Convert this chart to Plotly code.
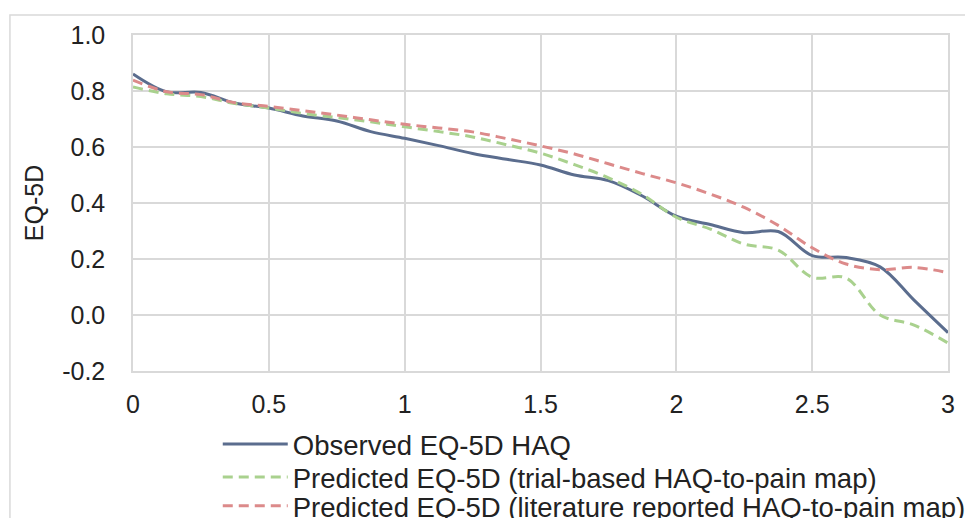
import plotly.graph_objects as go

haq = [0, 0.125, 0.25, 0.375, 0.5, 0.625, 0.75, 0.875, 1.0, 1.125, 1.25, 1.375, 1.5,
       1.625, 1.75, 1.875, 2.0, 2.125, 2.25, 2.375, 2.5, 2.625, 2.75, 2.875, 3.0]

observed = [0.861, 0.797, 0.795, 0.757, 0.739, 0.711, 0.693, 0.655, 0.631, 0.605, 0.577,
            0.556, 0.536, 0.500, 0.480, 0.425, 0.353, 0.323, 0.294, 0.298, 0.212, 0.205,
            0.172, 0.053, -0.063]

pred_trial = [0.814, 0.790, 0.780, 0.755, 0.739, 0.720, 0.705, 0.690, 0.672, 0.655, 0.636,
              0.608, 0.578, 0.537, 0.490, 0.430, 0.349, 0.307, 0.253, 0.232, 0.135, 0.132,
              0.000, -0.036, -0.100]

pred_lit = [0.839, 0.797, 0.787, 0.758, 0.745, 0.730, 0.714, 0.697, 0.681, 0.668, 0.654,
            0.630, 0.604, 0.575, 0.540, 0.505, 0.472, 0.432, 0.384, 0.320, 0.240, 0.182,
            0.162, 0.170, 0.151]

series_names = ["Observed EQ-5D HAQ",
                "Predicted EQ-5D (trial-based HAQ-to-pain map)",
                "Predicted EQ-5D (literature reported HAQ-to-pain map)"]

x_ticks = [0, 0.5, 1, 1.5, 2, 2.5, 3]
x_tick_labels = ["0", "0.5", "1", "1.5", "2", "2.5", "3"]
y_ticks = [-0.2, 0.0, 0.2, 0.4, 0.6, 0.8, 1.0]
y_tick_labels = ["-0.2", "0.0", "0.2", "0.4", "0.6", "0.8", "1.0"]
y_title = "EQ-5D"

FONT = "Liberation Sans, Arial, sans-serif"
GRID = "#d9d9d9"
TXT = "#222222"

fig = go.Figure()
fig.add_trace(go.Scatter(x=haq, y=observed, name=series_names[0], mode="lines",
                         legend="legend",
                         line=dict(color="#5b6d8e", width=3, shape="spline", smoothing=1)))
fig.add_trace(go.Scatter(x=haq, y=pred_trial, name=series_names[1], mode="lines",
                         legend="legend2",
                         line=dict(color="#a9d18e", width=3, dash="10px,6px",
                                   shape="spline", smoothing=1)))
fig.add_trace(go.Scatter(x=haq, y=pred_lit, name=series_names[2], mode="lines",
                         legend="legend3",
                         line=dict(color="#dc8a8a", width=3, dash="10px,6px",
                                   shape="spline", smoothing=1)))

def leg(yc):
    return dict(x=0.104, y=yc, xanchor="left", yanchor="middle",
                font=dict(size=27.5, color=TXT), bgcolor="rgba(0,0,0,0)",
                borderwidth=0, itemwidth=65)

fig.update_layout(
    width=965, height=518,
    margin=dict(l=133, r=17, t=35, b=147, autoexpand=False),
    paper_bgcolor="white", plot_bgcolor="white",
    font=dict(family=FONT, size=25, color=TXT),
    showlegend=True,
    legend=leg(-0.2173),
    legend2=leg(-0.3155),
    legend3=leg(-0.4017),
    shapes=[dict(type="rect", xref="paper", yref="paper",
                 x0=-0.151, x1=1.2, y0=-0.7, y1=1.0595,
                 line=dict(color="#d9d9d9", width=1.5), layer="below")],
)
fig.update_xaxes(range=[0, 3], tickvals=x_ticks, ticktext=x_tick_labels,
                 showgrid=True, gridcolor=GRID, gridwidth=1.5,
                 showline=True, linecolor=GRID, linewidth=1.5, mirror=True,
                 zeroline=False, ticks="", ticklabelstandoff=10,
                 tickfont=dict(size=25))
fig.update_yaxes(range=[-0.2, 1.0], tickvals=y_ticks, ticktext=y_tick_labels,
                 showgrid=True, gridcolor=GRID, gridwidth=1.5,
                 showline=True, linecolor=GRID, linewidth=1.5, mirror=True,
                 zeroline=False, ticks="", ticklabelstandoff=21,
                 tickfont=dict(size=25),
                 title=dict(text=y_title, font=dict(size=25), standoff=11))

fig.write_html("out.html", config={"displayModeBar": False},
               post_script="document.body.style.margin='0';document.body.style.overflow='hidden';")
